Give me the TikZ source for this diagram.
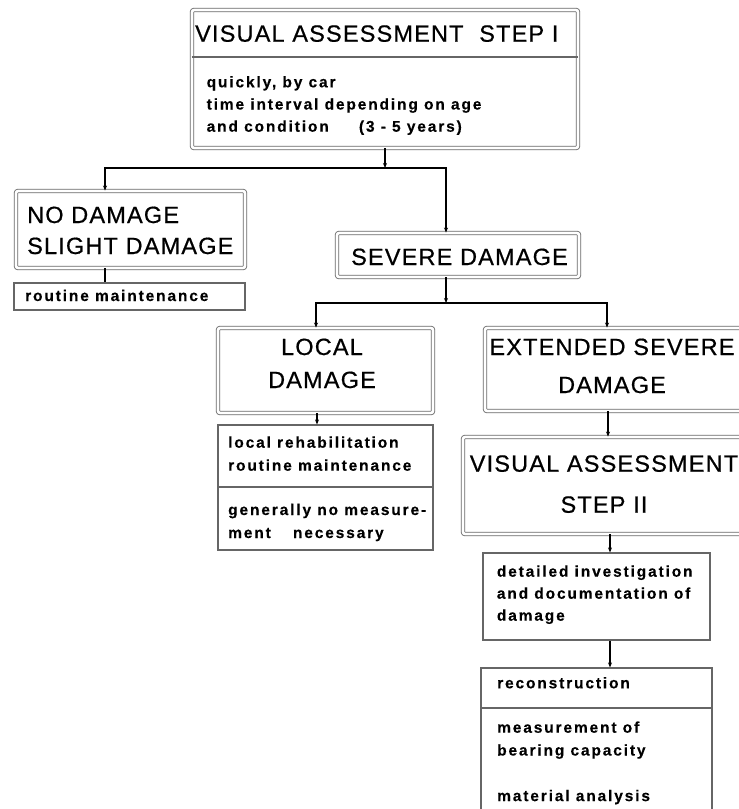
\documentclass[tikz,border=0pt]{standalone}
\usepackage{fontspec}
\setmainfont{Liberation Sans}
\newfontfamily\headfont[LetterSpace=5,FakeBold=0.6]{Liberation Sans}
\newfontfamily\bodyfont[LetterSpace=12,FakeBold=0.3]{Liberation Sans}
\usetikzlibrary{arrows.meta}
\newcommand{\ml}[2][22.3pt]{\vtop{\baselineskip=#1\relax\halign{##\hfil\cr#2\crcr}}}
\newcommand{\mlc}[2][33pt]{\vtop{\baselineskip=#1\relax\halign{\hfil##\hfil\cr#2\crcr}}}
\begin{document}
\begin{tikzpicture}[x=1pt,y=-1pt,
  dbox/.style={draw=black!60, line width=0.85pt, double=white, double distance=2.6pt, rounded corners=2pt, inner sep=0pt, anchor=center},
  sbox/.style={draw=black!60, line width=1.2pt, inner sep=0pt, anchor=center},
  head/.style={font=\headfont\fontsize{23.5}{33}\selectfont, inner sep=0pt},
  body/.style={font=\bodyfont\bfseries\fontsize{15.5}{22.3}\selectfont, inner sep=0pt, anchor=base west},
  divider/.style={draw=black!60, line width=1.2pt},
  conn/.style={line width=1.2pt, black, -{Stealth[length=5pt,width=4pt]}},
  plainconn/.style={line width=1.2pt, black}]
\useasboundingbox (0,0) rectangle (739,809);

% boxes
\node[dbox, minimum width=386pt, minimum height=138pt] (top) at (385,79) {};
\node[dbox, minimum width=229pt, minimum height=77pt] (nodmg) at (130.5,229.5) {};
\node[sbox, minimum width=231pt, minimum height=27pt] (routine) at (129.5,296.5) {};
\node[dbox, minimum width=242pt, minimum height=44pt] (severe) at (458,255) {};
\node[dbox, minimum width=215pt, minimum height=85pt] (local) at (325.5,370.5) {};
\node[sbox, minimum width=215pt, minimum height=125pt] (localtxt) at (325.5,487.5) {};
\node[dbox, minimum width=275pt, minimum height=83pt] (ext) at (622.5,369.5) {};
\node[dbox, minimum width=297pt, minimum height=97pt] (vis2) at (611.5,485.5) {};
\node[sbox, minimum width=227pt, minimum height=87pt] (detail) at (596.5,596.5) {};
\node[sbox, minimum width=231pt, minimum height=162pt] (recon) at (596.5,749) {};

% dividers
\draw[divider] (top.west |- 0,57) -- (top.east |- 0,57);
\draw[divider] (localtxt.west |- 0,487) -- (localtxt.east |- 0,487);
\draw[divider] (recon.west |- 0,708) -- (recon.east |- 0,708);

% texts
\node[head, anchor=base west] (toptitle) at (195,41.7) {VISUAL ASSESSMENT\hspace{8pt} STEP I};
\node[body] (topbody) at (206.5,87.3) {\ml[22.2pt]{quickly, by car\cr time interval depending on age\cr and condition\hspace{24pt} (3 - 5 years)}};
\node[head, anchor=base west] (nodmgtxt) at (27,223) {\ml[31pt]{NO DAMAGE\cr SLIGHT DAMAGE}};
\node[body] (routinetxt) at (25,301) {routine maintenance};
\node[head, anchor=base] (severetxt) at (459.5,265) {SEVERE DAMAGE};
\node[head, anchor=base] (localhead) at (322,355) {\mlc[33pt]{LOCAL\cr DAMAGE}};
\node[body] (localtxta) at (228,447.7) {\ml[23pt]{local rehabilitation\cr routine maintenance}};
\node[body] (localtxtb) at (228,515) {\ml[23pt]{generally no measure-\cr ment\hspace{16pt} necessary}};
\node[head, anchor=base] (exthead) at (612,355) {\mlc[38pt]{EXTENDED SEVERE\cr DAMAGE}};
\node[head, anchor=base] (vis2head) at (604,471.7) {\mlc[41pt]{VISUAL ASSESSMENT\cr STEP II}};
\node[body] (detailtxt) at (496.7,576.7) {\ml[22pt]{detailed investigation\cr and documentation of\cr damage}};
\node[body] (recontxta) at (497,688.3) {reconstruction};
\node[body] (recontxtb) at (497,732.7) {\ml[22.8pt]{measurement of\cr bearing capacity\cr \cr material analysis}};

% connectors
\coordinate (j1) at (385,168);
\coordinate (a1) at (105,168);
\coordinate (a2) at (446,168);
\draw[conn] (top.south) -- (j1);
\draw[conn] (j1) -- (a1) -- (a1 |- nodmg.north);
\draw[conn] (j1) -- (a2) -- (a2 |- severe.north);
\draw[plainconn] (nodmg.south -| a1) -- (a1 |- routine.north);

\coordinate (j2) at (446,303);
\coordinate (b1) at (316,303);
\coordinate (b2) at (607,303);
\draw[conn] (severe.south -| j2) -- (j2);
\draw[conn] (j2) -- (b1) -- (b1 |- local.north);
\draw[conn] (j2) -- (b2) -- (b2 |- ext.north);

\coordinate (c1) at (317,420);
\coordinate (c2) at (608,425);
\coordinate (c3) at (610,545);
\draw[conn] (local.south -| c1) -- (c1 |- localtxt.north);
\draw[conn] (ext.south -| c2) -- (c2 |- vis2.north);
\draw[conn] (vis2.south -| c3) -- (c3 |- detail.north);
\draw[conn] (detail.south -| c3) -- (c3 |- recon.north);
\end{tikzpicture}
\end{document}
